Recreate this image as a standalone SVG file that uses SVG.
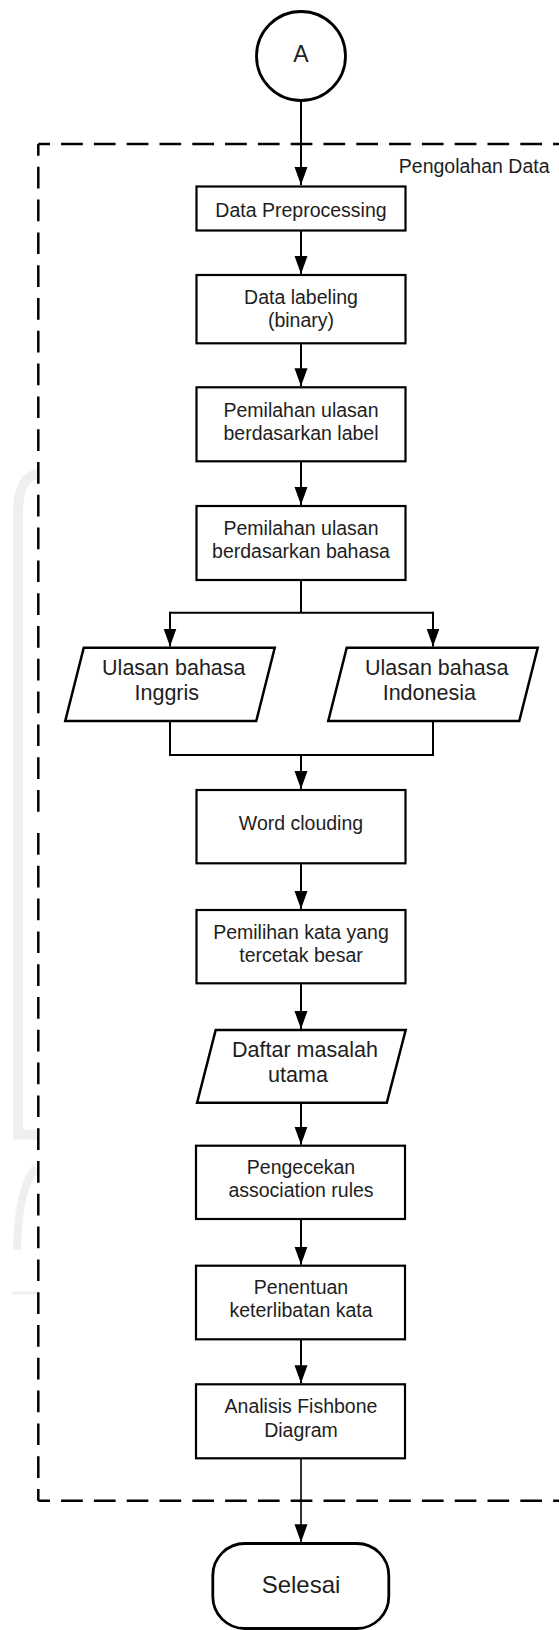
<svg xmlns="http://www.w3.org/2000/svg" width="559" height="1630" viewBox="0 0 559 1630">
<style>
  .box { fill: #fff; stroke: #000; stroke-width: 2.2; }
  .para { fill: #fff; stroke: #000; stroke-width: 2.5; stroke-linejoin: miter; }
  .term { fill: #fff; stroke: #000; stroke-width: 2.8; }
  .t { font-family: "Liberation Sans", Arial, sans-serif; font-size: 19.5px; fill: #1e1e1e; text-anchor: middle; }
  .tl { font-family: "Liberation Sans", Arial, sans-serif; font-size: 21.5px; fill: #1e1e1e; text-anchor: middle; }
  .conn { fill: none; stroke: #000; stroke-width: 2; }
  .arr { marker-end: url(#ah); }
  .dash { fill: none; stroke: #000; stroke-width: 2.5; stroke-dasharray: 21.7 11.1; stroke-dashoffset: 10; }
  .wm { fill: none; stroke: #efefef; }
</style>
<defs>
  <marker id="ah" markerUnits="userSpaceOnUse" markerWidth="18" markerHeight="14" refX="18" refY="7" orient="auto">
    <path d="M0,0.5 L18,7 L0,13.5 z" fill="#000"/>
  </marker>
</defs>
<rect x="0" y="0" width="559" height="1630" fill="#fff"/>

<g id="watermark">
  <path class="wm" stroke-width="10" d="M40 474 C 26 474 18 488 18 512 L 18 1134.5 L 38 1134.5"/>
  <path class="wm" stroke-width="8" d="M36 1168 Q 18 1188 17 1250"/>
  <path class="wm" stroke-width="3" d="M12 1293 L 37 1293"/>
</g>

<g id="container">
  <path class="dash" d="M38.3 144 L 575 144"/>
  <path class="dash" d="M38.3 1500.7 L 575 1500.7"/>
  <path class="dash" d="M38.3 144 L 38.3 822"/>
  <path class="dash" d="M38.3 1500.7 L 38.3 822"/>
  <text x="549.5" y="172.7" class="t" style="text-anchor:end">Pengolahan Data</text>
</g>

<g id="connectors">
  <path class="conn arr" d="M301 100.5 L 301 185"/>
  <path class="conn arr" d="M301 230.5 L 301 274"/>
  <path class="conn arr" d="M301 343.3 L 301 386.3"/>
  <path class="conn arr" d="M301 461.3 L 301 505"/>
  <path class="conn" d="M301 580 L 301 612.7 M170 612.7 L 433 612.7"/>
  <path class="conn arr" d="M170 611.7 L 170 646.5"/>
  <path class="conn arr" d="M433 611.7 L 433 646.5"/>
  <path class="conn" d="M170 721 L 170 755 L 433 755 L 433 721"/>
  <path class="conn arr" d="M301 755 L 301 789"/>
  <path class="conn arr" d="M301 863.3 L 301 909"/>
  <path class="conn arr" d="M301 983.3 L 301 1029"/>
  <path class="conn arr" d="M301 1102.7 L 301 1144.7"/>
  <path class="conn arr" d="M301 1219 L 301 1264.7"/>
  <path class="conn arr" d="M301 1339.3 L 301 1383.3"/>
  <path class="conn arr" style="stroke-width:1.6" d="M301 1458.3 L 301 1542.3"/>
</g>

<g id="start">
  <circle class="term" cx="301" cy="56" r="44.5"/>
  <text x="301" y="61.7" class="t" style="font-size:23px">A</text>
</g>

<g id="n1">
  <rect class="box" x="196.5" y="186.5" width="209" height="44"/>
  <text x="301" y="216.5" class="t">Data Preprocessing</text>
</g>

<g id="n2">
  <rect class="box" x="196.5" y="275" width="209" height="68.3"/>
  <text x="301" y="304" class="t">Data labeling</text>
  <text x="301" y="327.3" class="t">(binary)</text>
</g>

<g id="n3">
  <rect class="box" x="196.5" y="387.3" width="209" height="74"/>
  <text x="301" y="416.7" class="t">Pemilahan ulasan</text>
  <text x="301" y="440" class="t">berdasarkan label</text>
</g>

<g id="n4">
  <rect class="box" x="196.5" y="506" width="209" height="74"/>
  <text x="301" y="535" class="t">Pemilahan ulasan</text>
  <text x="301" y="558.3" class="t">berdasarkan bahasa</text>
</g>

<g id="n5">
  <polygon class="para" points="83.75,647.7 274.75,647.7 256.25,721 65.25,721"/>
  <text x="173.8" y="675" class="tl">Ulasan bahasa</text>
  <text x="166.8" y="700" class="tl">Inggris</text>
</g>

<g id="n6">
  <polygon class="para" points="346.75,647.7 537.75,647.7 519.25,721 328.25,721"/>
  <text x="436.7" y="675" class="tl">Ulasan bahasa</text>
  <text x="429.3" y="700" class="tl">Indonesia</text>
</g>

<g id="n7">
  <rect class="box" x="196.5" y="790" width="209" height="73.3"/>
  <text x="301" y="830" class="t">Word clouding</text>
</g>

<g id="n8">
  <rect class="box" x="196.5" y="910" width="209" height="73.3"/>
  <text x="301" y="939.3" class="t">Pemilihan kata yang</text>
  <text x="301" y="961.7" class="t">tercetak besar</text>
</g>

<g id="n9">
  <polygon class="para" points="215.7,1030 405.7,1030 386.8,1102.7 197.1,1102.7"/>
  <text x="305" y="1056.7" class="tl">Daftar masalah</text>
  <text x="298" y="1082.3" class="tl">utama</text>
</g>

<g id="n10">
  <rect class="box" x="196" y="1145.7" width="209" height="73.3"/>
  <text x="301" y="1174" class="t">Pengecekan</text>
  <text x="301" y="1196.7" class="t">association rules</text>
</g>

<g id="n11">
  <rect class="box" x="196" y="1265.7" width="209" height="73.6"/>
  <text x="301" y="1294.3" class="t">Penentuan</text>
  <text x="301" y="1317.3" class="t">keterlibatan kata</text>
</g>

<g id="n12">
  <rect class="box" x="196" y="1384.3" width="209" height="74"/>
  <text x="301" y="1413.3" class="t">Analisis Fishbone</text>
  <text x="301" y="1436.7" class="t">Diagram</text>
</g>

<g id="end">
  <rect class="term" x="212.8" y="1543.5" width="176" height="85" rx="32" ry="32"/>
  <text x="301" y="1593.3" class="t" style="font-size:24px">Selesai</text>
</g>
</svg>
